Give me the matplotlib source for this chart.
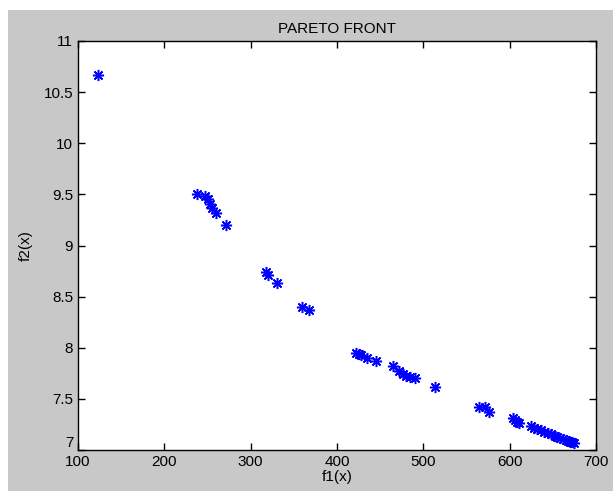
import numpy as np
import matplotlib.pyplot as plt
from matplotlib.patches import Rectangle

plt.rcParams["font.family"] = ["Liberation Sans", "DejaVu Sans"]

f1 = [123, 238, 247, 250, 253, 255, 260, 271, 318, 320, 330, 360, 367,
      422, 425, 428, 435, 445, 465, 472, 476, 480, 485, 490, 513,
      565, 572, 576, 604, 606, 608, 611, 625, 628, 632, 636, 640, 644,
      648, 652, 655, 658, 662, 665, 668, 670, 672, 674]
f2 = [10.67, 9.50, 9.48, 9.45, 9.41, 9.37, 9.32, 9.20, 8.74, 8.71, 8.63, 8.40, 8.37,
      7.95, 7.94, 7.93, 7.90, 7.87, 7.82, 7.77, 7.74, 7.72, 7.71, 7.70, 7.62,
      7.42, 7.42, 7.37, 7.31, 7.29, 7.27, 7.26, 7.23, 7.22, 7.21, 7.20, 7.18, 7.17,
      7.16, 7.14, 7.13, 7.12, 7.11, 7.10, 7.09, 7.08, 7.08, 7.07]

xticks = [100, 200, 300, 400, 500, 600, 700]
yticks = [7, 7.5, 8, 8.5, 9, 9.5, 10, 10.5, 11]

def main():
    fig = plt.figure(figsize=(6.13, 4.91), dpi=100, facecolor="white")
    # gray figure area like the matlab window, white strip top/left
    bg = Rectangle((8 / 613, 0), 1, 1 - 10 / 491, transform=fig.transFigure,
                   facecolor="#c8c8c8", edgecolor="none", zorder=-10)
    fig.add_artist(bg)
    ax = fig.add_axes([78 / 613, 41 / 491, 518 / 613, 409 / 491])
    ax.set_zorder(1)
    ax.set_facecolor("white")

    # matlab style asterisk (8 arms)
    ax.plot(f1, f2, linestyle="none", marker=(8, 2, 0), color="blue",
            markersize=8, markeredgewidth=1.1)

    ax.set_xlim(100, 700)
    ax.set_ylim(7, 11)
    ax.set_xticks(xticks)
    ax.set_yticks(yticks)
    ax.set_yticklabels([("%g" % v) for v in yticks])
    ax.tick_params(direction="in", top=True, right=True, labelsize=11, length=5, width=1)
    ax.get_yticklabels()[0].set_va("bottom")
    for s in ax.spines.values():
        s.set_linewidth(1)

    ax.set_title("PARETO FRONT", fontsize=11, pad=6)
    ax.set_xlabel("f1(x)", fontsize=11, labelpad=1)
    ax.set_ylabel("f2(x)", fontsize=11, labelpad=8)

    fig.savefig("out.png", dpi=100, facecolor=fig.get_facecolor())

if __name__ == "__main__":
    main()
